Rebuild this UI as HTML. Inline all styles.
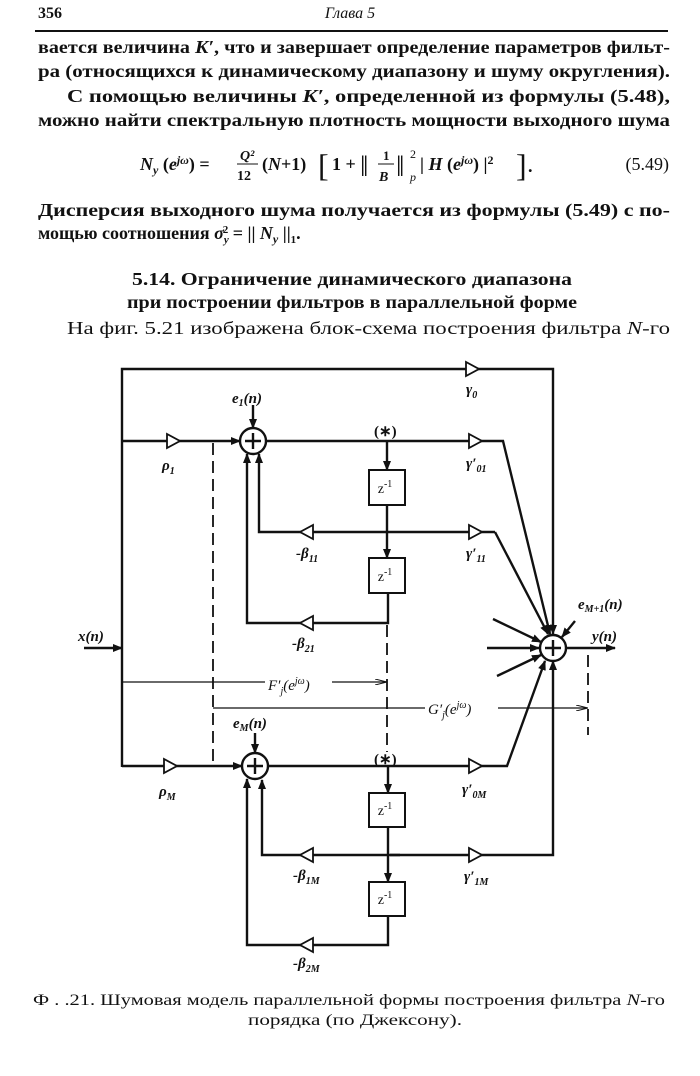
<!DOCTYPE html>
<html><head><meta charset="utf-8"><style>
html,body{margin:0;padding:0;background:#fff}
svg{display:block}
.t{font-family:"Liberation Serif","Noto Serif CJK SC",serif;fill:#111}
.b{font-weight:bold}
.i{font-family:"Liberation Serif",serif;font-style:italic;font-weight:bold;fill:#111}
.l{stroke:#111;stroke-width:2.4;fill:none}
.d{stroke:#111;stroke-width:1.8;fill:none;stroke-dasharray:12,6}
.tri{fill:#fff;stroke:#111;stroke-width:1.8}
.box{fill:#fff;stroke:#111;stroke-width:2}
</style></head><body>
<svg width="700" height="1076" viewBox="0 0 700 1076" xmlns="http://www.w3.org/2000/svg" font-size="18">
<defs>
<marker id="a" markerWidth="10" markerHeight="8" refX="9" refY="4" orient="auto" markerUnits="userSpaceOnUse"><path d="M0,0 L10,4 L0,8 Z" fill="#111"/></marker>
<marker id="as" markerWidth="12" markerHeight="6" refX="11" refY="3" orient="auto" markerUnits="userSpaceOnUse"><path d="M0,0 L12,3 L0,6" fill="none" stroke="#111" stroke-width="1"/></marker>
</defs>
<text x="38" y="18" class="t b" font-size="16">356</text>
<text x="350" y="18" class="t" font-size="16" font-style="italic" text-anchor="middle">Глава 5</text>
<line x1="35" y1="31" x2="668" y2="31" stroke="#111" stroke-width="2"/>
<text x="38" y="53" class="t b" textLength="632" lengthAdjust="spacingAndGlyphs">вается величина <tspan font-style="italic">K′</tspan>, что и завершает определение параметров фильт-</text>
<text x="38" y="77" class="t b" textLength="632" lengthAdjust="spacingAndGlyphs">ра (относящихся к динамическому диапазону и  шуму  округления).</text>
<text x="67" y="102" class="t b" textLength="603" lengthAdjust="spacingAndGlyphs">С помощью величины <tspan font-style="italic">K′</tspan>, определенной из формулы (5.48),</text>
<text x="38" y="126" class="t b" textLength="632" lengthAdjust="spacingAndGlyphs">можно найти спектральную плотность мощности выходного шума</text>
<text x="140" y="170" class="t b"><tspan font-style="italic">N</tspan><tspan font-style="italic" font-size="12" dy="4">y</tspan><tspan dy="-4"> (</tspan><tspan font-style="italic">e</tspan><tspan font-size="12" dy="-6" font-style="italic">jω</tspan><tspan dy="6">) =</tspan></text>
<text x="240" y="160" class="t b" font-size="14" font-style="italic">Q²</text>
<line x1="237" y1="164" x2="258" y2="164" stroke="#111" stroke-width="1"/>
<text x="237" y="180" class="t b" font-size="14">12</text>
<text x="262" y="170" class="t b">(<tspan font-style="italic">N</tspan>+1)</text>
<text x="318" y="176" class="t" font-size="32">[</text>
<text x="332" y="170" class="t b">1 +</text>
<text x="360" y="176" class="t" font-size="30">‖</text>
<text x="383" y="160" class="t b" font-size="13">1</text>
<line x1="378" y1="164" x2="394" y2="164" stroke="#111" stroke-width="1"/>
<text x="379" y="181" class="t b" font-size="14" font-style="italic">B</text>
<text x="396" y="176" class="t" font-size="30">‖</text>
<text x="410" y="158" class="t" font-size="12">2</text>
<text x="410" y="181" class="t" font-size="12" font-style="italic">p</text>
<text x="420" y="170" class="t b">| <tspan font-style="italic">H</tspan> (<tspan font-style="italic">e</tspan><tspan font-size="12" dy="-6" font-style="italic">jω</tspan><tspan dy="6">) |</tspan><tspan font-size="12" dy="-6">2</tspan></text>
<text x="516" y="176" class="t" font-size="32">]</text>
<text x="528" y="172" class="t b">.</text>
<text x="669" y="170" class="t" text-anchor="end">(5.49)</text>
<text x="38" y="216" class="t b" textLength="632" lengthAdjust="spacingAndGlyphs">Дисперсия выходного шума получается из формулы (5.49) с по-</text>
<text x="38" y="239" class="t b">мощью  соотношения  <tspan font-style="italic">σ</tspan><tspan font-size="11" dy="4" font-style="italic">y</tspan><tspan font-size="11" dx="-6" dy="-10">2</tspan><tspan dy="6"> = || </tspan><tspan font-style="italic">N</tspan><tspan font-size="12" dy="4" font-style="italic">y</tspan><tspan dy="-4"> ||</tspan><tspan font-size="11" dy="4">1</tspan><tspan dy="-4">.</tspan></text>
<text x="352" y="285" class="t b" text-anchor="middle" textLength="440" lengthAdjust="spacingAndGlyphs">5.14. Ограничение  динамического  диапазона</text>
<text x="352" y="308" class="t b" text-anchor="middle" textLength="450" lengthAdjust="spacingAndGlyphs">при построении фильтров в параллельной форме</text>
<text x="67" y="334" class="t" textLength="603" lengthAdjust="spacingAndGlyphs">На фиг. 5.21 изображена блок-схема построения фильтра <tspan font-style="italic">N</tspan>-го</text>

<polyline class="l" points="122,767 122,369 553,369 553,634" marker-end="url(#a)"/>
<polygon class="tri" points="466,362 466,376 479,369"/>
<line class="l" x1="84" y1="648" x2="122" y2="648" stroke-width="1.6" marker-end="url(#a)"/>
<line class="l" x1="122" y1="441" x2="240" y2="441" marker-end="url(#a)"/>
<polygon class="tri" points="167,434 167,448 180,441"/>
<circle cx="253" cy="441" r="13" class="l" fill="#fff"/>
<path class="l" d="M245,441h16M253,433v16" stroke-width="1.6"/>
<line class="l" x1="253" y1="405" x2="253" y2="428" stroke-width="1.6" marker-end="url(#a)"/>
<polyline class="l" points="266,441 503,441 550,634" marker-end="url(#a)"/>
<polygon class="tri" points="469,434 469,448 482,441"/>
<line class="l" x1="387" y1="441" x2="387" y2="470" marker-end="url(#a)"/>
<rect class="box" x="369" y="470" width="36" height="35"/>
<line class="l" x1="387" y1="505" x2="387" y2="558" marker-end="url(#a)"/>
<rect class="box" x="369" y="558" width="36" height="35"/>
<polyline class="l" points="495,532 259,532 259,454" marker-end="url(#a)"/>
<polyline class="l" points="495,532 548,634" marker-end="url(#a)"/>
<polygon class="tri" points="469,525 469,539 482,532"/>
<polygon class="tri" points="313,525 313,539 300,532"/>
<polyline class="l" points="388,593 388,623 247,623 247,454" marker-end="url(#a)"/>
<polygon class="tri" points="313,616 313,630 300,623"/>
<line class="d" x1="213" y1="443" x2="213" y2="766"/>
<line class="d" x1="387" y1="625" x2="387" y2="752"/>
<line class="d" x1="588" y1="655" x2="588" y2="735"/>
<line x1="122" y1="682" x2="265" y2="682" stroke="#111" stroke-width="1.2"/>
<line x1="332" y1="682" x2="386" y2="682" stroke="#111" stroke-width="1.2" marker-end="url(#as)"/>
<line x1="213" y1="708" x2="425" y2="708" stroke="#111" stroke-width="1.2"/>
<line x1="498" y1="708" x2="587" y2="708" stroke="#111" stroke-width="1.2" marker-end="url(#as)"/>
<circle cx="553" cy="648" r="13" class="l" fill="#fff"/>
<path class="l" d="M545,648h16M553,640v16" stroke-width="1.6"/>
<line class="l" x1="487" y1="648" x2="539" y2="648" marker-end="url(#a)"/>
<line class="l" x1="493" y1="619" x2="541" y2="642" marker-end="url(#a)"/>
<line class="l" x1="497" y1="676" x2="541" y2="655" marker-end="url(#a)"/>
<line class="l" x1="575" y1="621" x2="562" y2="637" stroke-width="1.8" marker-end="url(#a)"/>
<line class="l" x1="566" y1="648" x2="615" y2="648" stroke-width="1.8" marker-end="url(#a)"/>
<line class="l" x1="122" y1="766" x2="242" y2="766" marker-end="url(#a)"/>
<polygon class="tri" points="164,759 164,773 177,766"/>
<circle cx="255" cy="766" r="13" class="l" fill="#fff"/>
<path class="l" d="M247,766h16M255,758v16" stroke-width="1.6"/>
<line class="l" x1="255" y1="733" x2="255" y2="753" stroke-width="1.6" marker-end="url(#a)"/>
<polyline class="l" points="268,766 507,766 545,661" marker-end="url(#a)"/>
<polygon class="tri" points="469,759 469,773 482,766"/>
<line class="l" x1="388" y1="766" x2="388" y2="793" marker-end="url(#a)"/>
<rect class="box" x="369" y="793" width="36" height="34"/>
<line class="l" x1="388" y1="827" x2="388" y2="882" marker-end="url(#a)"/>
<rect class="box" x="369" y="882" width="36" height="34"/>
<polyline class="l" points="400,855 262,855 262,780" marker-end="url(#a)"/>
<polyline class="l" points="390,855 553,855 553,661" marker-end="url(#a)"/>
<polygon class="tri" points="313,848 313,862 300,855"/>
<polygon class="tri" points="469,848 469,862 482,855"/>
<polyline class="l" points="388,916 388,945 247,945 247,779" marker-end="url(#a)"/>
<polygon class="tri" points="313,938 313,952 300,945"/>
<g class="t" font-size="14" text-anchor="middle">
<text x="385" y="493">z<tspan font-size="10" dy="-6">-1</tspan></text>
<text x="385" y="581">z<tspan font-size="10" dy="-6">-1</tspan></text>
<text x="385" y="815">z<tspan font-size="10" dy="-6">-1</tspan></text>
<text x="385" y="904">z<tspan font-size="10" dy="-6">-1</tspan></text>
</g>
<g class="i" font-size="15">
<text x="232" y="403">e<tspan font-size="10" dy="3">1</tspan><tspan dy="-3">(n)</tspan></text>
<text x="466" y="394">γ<tspan font-size="10" dy="4">0</tspan></text>
<text x="162" y="470">ρ<tspan font-size="10" dy="4">1</tspan></text>
<text x="374" y="436" font-style="normal">(∗)</text>
<text x="466" y="468">γ′<tspan font-size="10" dy="4">01</tspan></text>
<text x="296" y="558">-β<tspan font-size="10" dy="4">11</tspan></text>
<text x="466" y="558">γ′<tspan font-size="10" dy="4">11</tspan></text>
<text x="292" y="648">-β<tspan font-size="10" dy="4">21</tspan></text>
<text x="78" y="641">x(n)</text>
<text x="268" y="690" font-weight="normal">F′<tspan font-size="10" dy="4">j</tspan><tspan dy="-4">(e</tspan><tspan font-size="10" dy="-6">jω</tspan><tspan dy="6">)</tspan></text>
<text x="428" y="714" font-weight="normal">G′<tspan font-size="10" dy="4">j</tspan><tspan dy="-4">(e</tspan><tspan font-size="10" dy="-6">jω</tspan><tspan dy="6">)</tspan></text>
<text x="233" y="728">e<tspan font-size="10" dy="3">M</tspan><tspan dy="-3">(n)</tspan></text>
<text x="159" y="796">ρ<tspan font-size="10" dy="4">M</tspan></text>
<text x="374" y="764" font-style="normal">(∗)</text>
<text x="462" y="794">γ′<tspan font-size="10" dy="4">0M</tspan></text>
<text x="293" y="880">-β<tspan font-size="10" dy="4">1M</tspan></text>
<text x="464" y="881">γ′<tspan font-size="10" dy="4">1M</tspan></text>
<text x="293" y="968">-β<tspan font-size="10" dy="4">2M</tspan></text>
<text x="578" y="609">e<tspan font-size="10" dy="3">M+1</tspan><tspan dy="-3">(n)</tspan></text>
<text x="592" y="641">y(n)</text>
</g>
<text x="33" y="1005" class="t" font-size="16" textLength="632" lengthAdjust="spacingAndGlyphs">Ф  .   .21. Шумовая модель параллельной формы построения фильтра <tspan font-style="italic">N</tspan>-го</text>
<text x="355" y="1025" class="t" font-size="16" text-anchor="middle" textLength="214" lengthAdjust="spacingAndGlyphs">порядка  (по  Джексону).</text>
</svg>
</body></html>
